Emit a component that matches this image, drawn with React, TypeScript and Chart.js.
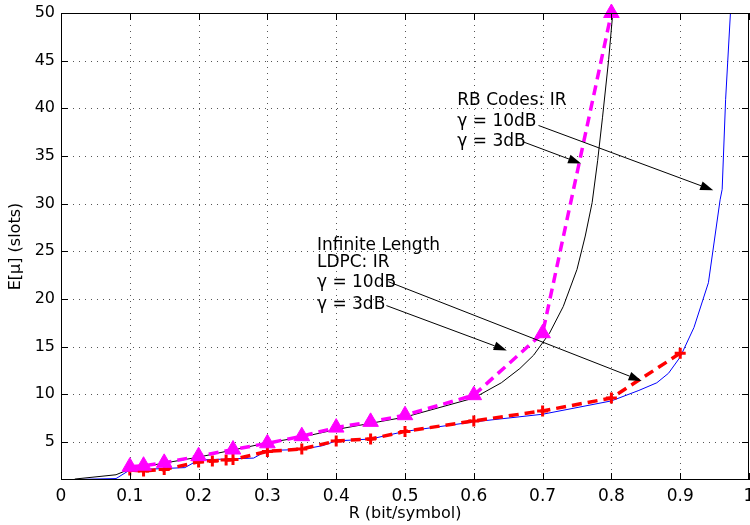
import React, { useEffect, useRef } from "react";
import { Chart, registerables } from "chart.js";

Chart.register(...registerables);

const FONT = '"DejaVu Sans", "Liberation Sans", sans-serif';

// Axis ticks
const X_TICKS = [0, 0.1, 0.2, 0.3, 0.4, 0.5, 0.6, 0.7, 0.8, 0.9, 1];
const X_TICK_LABELS = ["0", "0.1", "0.2", "0.3", "0.4", "0.5", "0.6", "0.7", "0.8", "0.9", "1"];
const Y_TICKS = [5, 10, 15, 20, 25, 30, 35, 40, 45, 50];

// Magenta dashed with triangles
const MAG_R = [0.1, 0.12, 0.15, 0.2, 0.25, 0.3, 0.35, 0.4, 0.45, 0.5, 0.6, 0.7, 0.8];
const MAG_E = [2.4, 2.5, 2.8, 3.5, 4.2, 4.85, 5.6, 6.5, 7.1, 7.8, 9.9, 16.4, 50];

// Red dashed with crosses
const RED_R = [0.1, 0.12, 0.15, 0.2, 0.22, 0.24, 0.25, 0.3, 0.35, 0.4, 0.45, 0.5, 0.6, 0.7, 0.8, 0.9];
const RED_E = [2.05, 1.95, 2.1, 2.9, 3.0, 3.1, 3.15, 4.0, 4.25, 5.1, 5.3, 6.1, 7.2, 8.25, 9.6, 14.3];

// Black solid
const BLK_R = [0.02, 0.08, 0.1, 0.2, 0.3, 0.35, 0.4, 0.5, 0.6, 0.64, 0.667, 0.687, 0.71, 0.73, 0.75, 0.762, 0.772, 0.78, 0.787, 0.796, 0.802];
const BLK_E = [1.1, 1.55, 2.15, 3.4, 4.9, 5.5, 6.3, 7.6, 9.6, 11.2, 12.7, 14.1, 16.4, 19.2, 23.1, 26.6, 30.1, 34.5, 39.0, 45.1, 50];

// Blue solid
const BLU_R = [0.02, 0.08, 0.1, 0.18, 0.2, 0.28, 0.3, 0.35, 0.38, 0.4, 0.45, 0.5, 0.6, 0.7, 0.8, 0.84, 0.866, 0.883, 0.9, 0.92, 0.941, 0.958, 0.961, 0.966, 0.973];
const BLU_E = [1.05, 1.15, 2.05, 2.3, 3.1, 3.3, 4.1, 4.2, 4.6, 5.1, 5.3, 6.1, 7.1, 7.9, 9.3, 10.4, 11.2, 12.2, 13.9, 17.0, 21.7, 30.4, 31.5, 40.9, 50];

// Annotations (data coordinates)
const NOTE_LINES = [
  { r: 0.576, e: 40.8, text: "RB Codes: IR" },
  { r: 0.576, e: 38.6, text: "\u03b3 = 10dB" },
  { r: 0.576, e: 36.5, text: "\u03b3 = 3dB" },
  { r: 0.372, e: 25.6, text: "Infinite Length" },
  { r: 0.372, e: 23.8, text: "LDPC: IR" },
  { r: 0.372, e: 21.7, text: "\u03b3 = 10dB" },
  { r: 0.372, e: 19.4, text: "\u03b3 = 3dB" },
];
const ARROWS = [
  { r0: 0.694, e0: 38.2, r1: 0.948, e1: 31.4 },
  { r0: 0.671, e0: 36.5, r1: 0.756, e1: 34.2 },
  { r0: 0.476, e0: 21.8, r1: 0.844, e1: 11.4 },
  { r0: 0.473, e0: 19.3, r1: 0.648, e1: 14.6 },
];

const pts = (xs: number[], ys: number[]) => xs.map((x, i) => ({ x, y: ys[i] }));

const matlabPlugin = {
  id: "matlabLook",
  beforeDatasetsDraw(chart: any) {
    const { ctx, chartArea, scales } = chart;
    const { left, right, top, bottom } = chartArea;
    const x = scales.x;
    const y = scales.y;
    ctx.save();
    ctx.strokeStyle = "#555";
    ctx.lineWidth = 1;
    ctx.setLineDash([1, 5]);
    for (const v of X_TICKS) {
      const px = Math.round(x.getPixelForValue(v)) + 0.5;
      if (px <= left + 2 || px >= right - 2) continue;
      ctx.beginPath();
      ctx.moveTo(px, top);
      ctx.lineTo(px, bottom);
      ctx.stroke();
    }
    for (const v of Y_TICKS) {
      const py = Math.round(y.getPixelForValue(v)) + 0.5;
      if (py <= top + 2 || py >= bottom - 2) continue;
      ctx.beginPath();
      ctx.moveTo(left, py);
      ctx.lineTo(right, py);
      ctx.stroke();
    }
    ctx.restore();
  },
  afterDatasetsDraw(chart: any) {
    const { ctx, chartArea, scales } = chart;
    const { left, right, top, bottom } = chartArea;
    const x = scales.x;
    const y = scales.y;
    ctx.save();
    // box
    ctx.strokeStyle = "#000";
    ctx.lineWidth = 1;
    ctx.setLineDash([]);
    ctx.strokeRect(Math.round(left) + 0.5, Math.round(top) + 0.5, Math.round(right - left) - 1, Math.round(bottom - top) - 1);
    // inward ticks
    const tl = 7;
    ctx.beginPath();
    for (const v of X_TICKS) {
      const px = Math.round(x.getPixelForValue(v)) + 0.5;
      ctx.moveTo(px, bottom);
      ctx.lineTo(px, bottom - tl);
      ctx.moveTo(px, top);
      ctx.lineTo(px, top + tl);
    }
    for (const v of Y_TICKS) {
      const py = Math.round(y.getPixelForValue(v)) + 0.5;
      ctx.moveTo(left, py);
      ctx.lineTo(left + tl, py);
      ctx.moveTo(right, py);
      ctx.lineTo(right - tl, py);
    }
    ctx.stroke();

    // x tick labels
    ctx.fillStyle = "#000";
    ctx.font = `17px ${FONT}`;
    ctx.textAlign = "center";
    ctx.textBaseline = "alphabetic";
    X_TICKS.forEach((v, i) => {
      ctx.fillText(X_TICK_LABELS[i], x.getPixelForValue(v), bottom + 20.5);
    });

    // arrows
    for (const a of ARROWS) {
      const x0 = x.getPixelForValue(a.r0);
      const y0 = y.getPixelForValue(a.e0);
      const x1 = x.getPixelForValue(a.r1);
      const y1 = y.getPixelForValue(a.e1);
      const ang = Math.atan2(y1 - y0, x1 - x0);
      const L = 13;
      const W = 4.5;
      const bx = x1 - L * Math.cos(ang);
      const by = y1 - L * Math.sin(ang);
      ctx.beginPath();
      ctx.moveTo(x0, y0);
      ctx.lineTo(bx, by);
      ctx.stroke();
      ctx.beginPath();
      ctx.moveTo(x1, y1);
      ctx.lineTo(bx + W * Math.sin(ang), by - W * Math.cos(ang));
      ctx.lineTo(bx - W * Math.sin(ang), by + W * Math.cos(ang));
      ctx.closePath();
      ctx.fill();
    }
    // texts
    ctx.textAlign = "left";
    ctx.textBaseline = "middle";
    for (const n of NOTE_LINES) {
      ctx.fillText(n.text, x.getPixelForValue(n.r), y.getPixelForValue(n.e));
    }
    ctx.restore();
  },
};

export default function App() {
  const ref = useRef<HTMLCanvasElement>(null);
  useEffect(() => {
    document.body.style.margin = "0";
    const chart = new Chart(ref.current as HTMLCanvasElement, {
      type: "line",
      data: {
        datasets: [
          {
            data: pts(MAG_R, MAG_E),
            borderColor: "#ff00ff",
            backgroundColor: "#ff00ff",
            borderWidth: 3.5,
            borderDash: [10, 6],
            pointStyle: "triangle",
            pointRadius: 9,
            pointBorderWidth: 1,
            pointBackgroundColor: "#ff00ff",
            pointBorderColor: "#ff00ff",
            tension: 0,
            clip: false as any,
          },
          {
            data: pts(RED_R, RED_E),
            borderColor: "#ff0000",
            backgroundColor: "#ff0000",
            borderWidth: 3.5,
            borderDash: [10, 6],
            pointStyle: "cross",
            pointRadius: 5.5,
            pointBorderWidth: 3,
            pointBorderColor: "#ff0000",
            tension: 0,
          },
          {
            data: pts(BLK_R, BLK_E),
            borderColor: "#000000",
            borderWidth: 1,
            pointRadius: 0,
            tension: 0,
          },
          {
            data: pts(BLU_R, BLU_E),
            borderColor: "#0000ff",
            borderWidth: 1,
            pointRadius: 0,
            tension: 0,
          },
        ],
      },
      options: {
        responsive: false,
        animation: false,
        events: [],
        layout: { autoPadding: false, padding: { top: 13, right: 1, left: 0, bottom: 0 } },
        plugins: { legend: { display: false }, tooltip: { enabled: false } },
        scales: {
          x: {
            type: "linear",
            min: 0,
            max: 1,
            grid: { display: false, drawTicks: false },
            border: { display: false },
            afterBuildTicks: (s: any) => {
              s.ticks = X_TICKS.map((v) => ({ value: v }));
            },
            afterFit: (s: any) => {
              s.height = 45;
              s.paddingLeft = 0;
              s.paddingRight = 0;
            },
            ticks: { display: false },
            title: {
              display: true,
              text: "R (bit/symbol)",
              color: "#000",
              font: { family: FONT, size: 16 },
              padding: { top: 0, bottom: 2 },
            },
          },
          y: {
            type: "linear",
            min: 1,
            max: 50,
            grid: { display: false, drawTicks: false },
            border: { display: false },
            afterBuildTicks: (s: any) => {
              s.ticks = Y_TICKS.map((v) => ({ value: v }));
            },
            afterFit: (s: any) => {
              s.width = 61;
              s.paddingTop = 0;
              s.paddingBottom = 0;
            },
            ticks: {
              color: "#000",
              font: { family: FONT, size: 16 },
              padding: 6,
              autoSkip: false,
              callback: (v: any) => String(v),
            },
            title: {
              display: true,
              text: "E[\u03bc] (slots)",
              color: "#000",
              font: { family: FONT, size: 16 },
              padding: { top: 6, bottom: 0 },
            },
          },
        },
      } as any,
      plugins: [matlabPlugin],
    });
    return () => chart.destroy();
  }, []);
  return (
    <div style={{ position: "absolute", left: 0, top: 0, width: 750, height: 525, background: "#fff" }}>
      <canvas ref={ref} width={750} height={525} style={{ display: "block", width: 750, height: 525 }} />
    </div>
  );
}
